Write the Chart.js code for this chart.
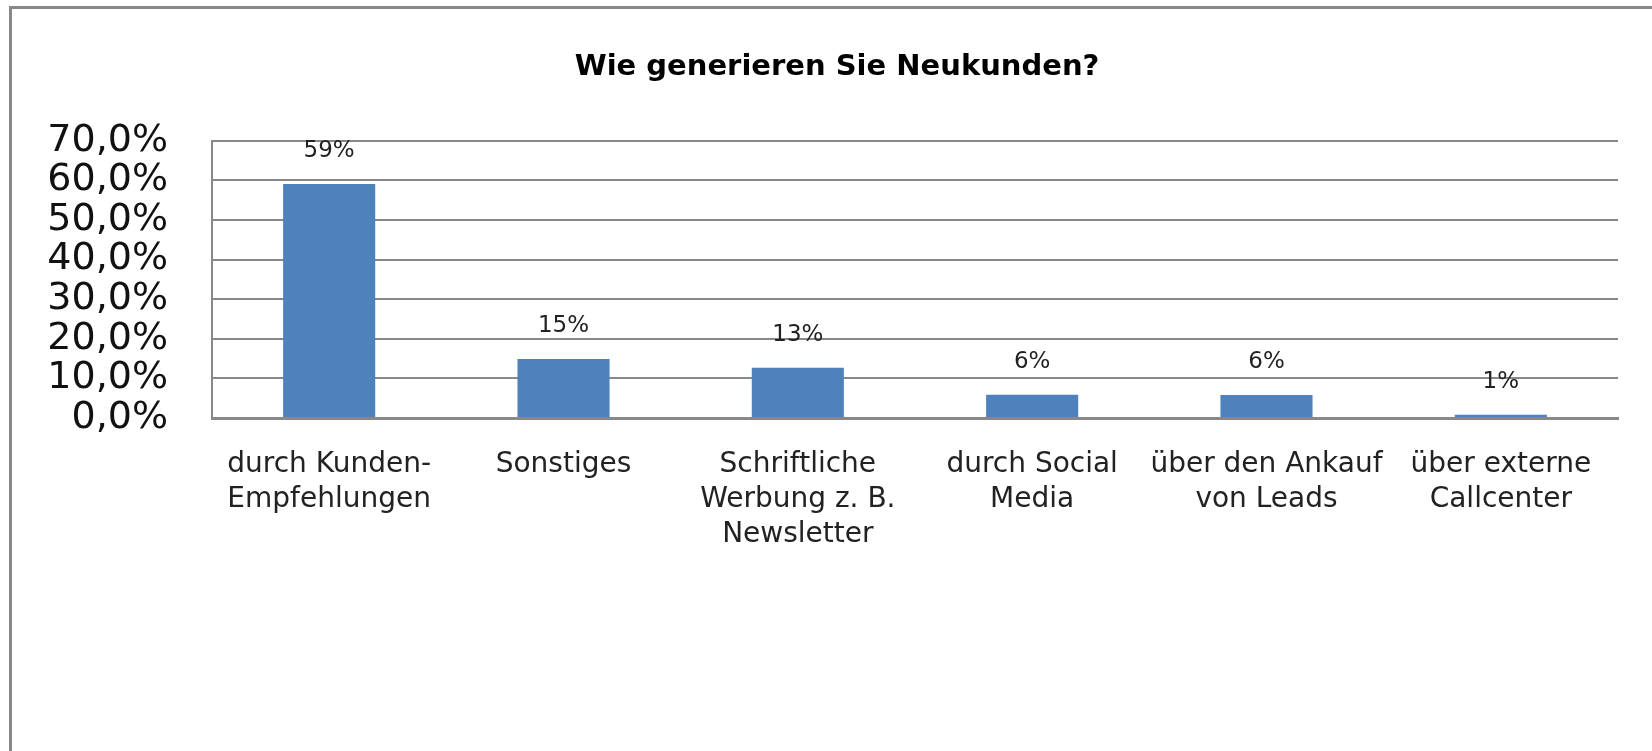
<!DOCTYPE html>
<html lang="de">
<head>
<meta charset="utf-8">
<title>Wie generieren Sie Neukunden?</title>
<script src="https://cdn.jsdelivr.net/npm/chart.js@4.4.1/dist/chart.umd.min.js"></script>
<style>
    html, body { margin: 0; padding: 0; background: #fff; overflow: hidden; }
    #frame {
        position: absolute; left: 9px; top: 6px; width: 1700px; height: 800px;
        border-left: 3px solid #888; border-top: 3px solid #888;
    }
    #wrap { position: absolute; left: 0; top: 0; width: 1652px; height: 751px; }
</style>
</head>
<body>
<div id="frame"></div>
<div id="wrap"><canvas id="chart" width="1652" height="751"></canvas></div>
<script>
// Daten
const categories = [
    ['durch Kunden-', 'Empfehlungen'],
    ['Sonstiges'],
    ['Schriftliche', 'Werbung z. B.', 'Newsletter'],
    ['durch Social', 'Media'],
    ['über den Ankauf', 'von Leads'],
    ['über externe', 'Callcenter']
];
const shares = [59.1, 14.9, 12.7, 5.9, 5.8, 0.8];
const valueLabels = ['59%', '15%', '13%', '6%', '6%', '1%'];
const yTicks = [0, 10, 20, 30, 40, 50, 60, 70];
const yTickLabels = ['0,0%', '10,0%', '20,0%', '30,0%', '40,0%', '50,0%', '60,0%', '70,0%'];

// Prozentwerte über den Balken
const barLabels = {
    id: 'barLabels',
    afterDatasetsDraw(chart) {
        const ctx = chart.ctx;
        const meta = chart.getDatasetMeta(0);
        ctx.save();
        ctx.font = '23px "DejaVu Sans"';
        ctx.fillStyle = '#222';
        ctx.textAlign = 'center';
        ctx.textBaseline = 'middle';
        meta.data.forEach((bar, i) => {
            ctx.fillText(valueLabels[i], bar.x, bar.y - 33);
        });
        ctx.restore();
    }
};

Chart.defaults.font.family = '"DejaVu Sans", sans-serif';
Chart.defaults.color = '#111';

new Chart(document.getElementById('chart'), {
    type: 'bar',
    data: {
        labels: categories,
        datasets: [{
            data: shares,
            backgroundColor: '#4F81BD',
            borderWidth: 0,
            categoryPercentage: 1,
            barPercentage: 0.393
        }]
    },
    options: {
        responsive: false,
        animation: false,
        events: [],
        layout: { padding: { left: 22, right: 0, top: 10, bottom: 0 } },
        plugins: {
            legend: { display: false },
            tooltip: { enabled: false },
            title: {
                display: true,
                text: 'Wie generieren Sie Neukunden?',
                color: '#000',
                font: { size: 29, weight: 'bold' },
                padding: { top: 40, bottom: 56 }
            }
        },
        scales: {
            x: {
                grid: { display: false, drawTicks: false },
                border: { display: true, color: '#888', width: 3 },
                ticks: {
                    color: '#222',
                    font: { size: 28, lineHeight: 1.25 },
                    padding: 29,
                    maxRotation: 0,
                    autoSkip: false
                },
                afterFit(scale) { scale.height = 751 - 418; }
            },
            y: {
                min: 0,
                max: 70,
                afterBuildTicks(scale) { scale.ticks = yTicks.map(v => ({ value: v })); },
                grid: { color: '#888', lineWidth: 2, drawTicks: false },
                border: { display: true, color: '#888', width: 2 },
                ticks: {
                    color: '#111',
                    font: { size: 38 },
                    padding: 44,
                    autoSkip: false,
                    crossAlign: 'near',
                    callback: function(value) {
                        return yTickLabels[yTicks.indexOf(value)];
                    }
                },
                afterFit(scale) { scale.width = 212 - 22; }
            },
            // leere Achse rechts, nur als Abstand
            yRight: {
                position: 'right',
                display: true,
                grid: { display: false, drawTicks: false },
                border: { display: false },
                ticks: { display: false },
                afterFit(scale) { scale.width = 1652 - 1618; }
            }
        }
    },
    plugins: [barLabels]
});
</script>
</body>
</html>
